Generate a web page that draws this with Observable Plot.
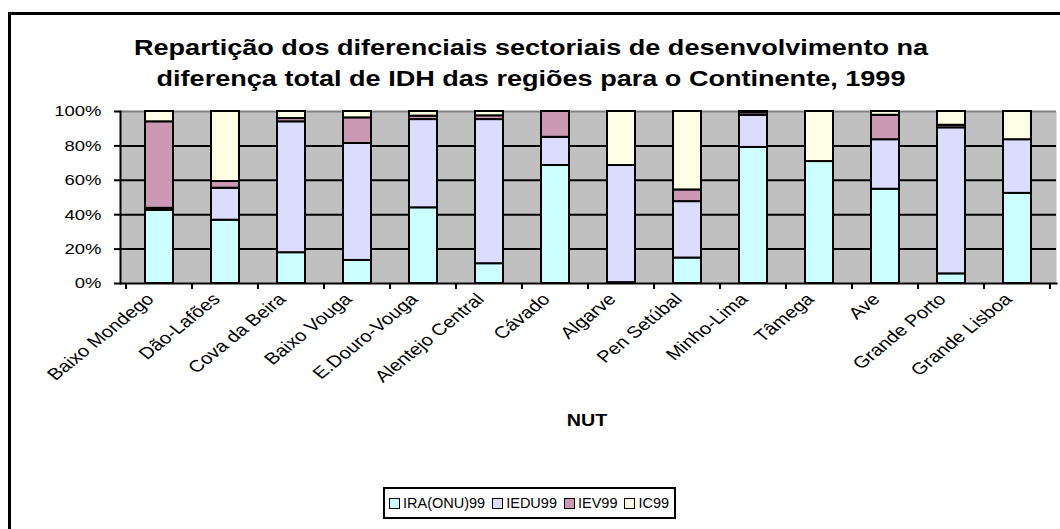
<!DOCTYPE html>
<html>
<head>
<meta charset="utf-8">
<script src="https://cdn.jsdelivr.net/npm/d3@7"></script>
<script src="https://cdn.jsdelivr.net/npm/@observablehq/plot@0.6"></script>
<style>
  html, body { margin: 0; padding: 0; background: #fff; }
  #wrap { position: relative; width: 1060px; height: 529px; overflow: hidden; font-family: "Liberation Sans", Arial, sans-serif; }
  #border { position: absolute; left: 8px; top: 12px; width: 1100px; height: 600px; border: 3px solid #000; box-sizing: border-box; }
  #title { position: absolute; left: 0; top: 32px; width: 1062px; text-align: center; font-weight: bold; font-size: 22px; line-height: 31px; color: #000; white-space: nowrap; transform: scaleX(1.23); transform-origin: 531px 0; }
  #chart { position: absolute; left: 0; top: 0; }
  #nut { position: absolute; left: 0; width: 1174px; top: 411px; text-align: center; font-weight: bold; font-size: 16px; line-height: 20px; transform: scaleX(1.23); transform-origin: 587px 0; }
  #legend { position: absolute; left: 383px; top: 487px; height: 32px; border: 2px solid #000; background: #fff; display: flex; align-items: center; padding: 0 5px 0 4px; box-sizing: border-box; font-size: 14.5px; white-space: nowrap; }
  .item { display: flex; align-items: center; margin-right: 7px; }
  .item:last-child { margin-right: 0; }
  .sw { width: 9px; height: 9px; border: 1.5px solid #000; margin-right: 3px; }
</style>
</head>
<body>
<div id="wrap">
  <div id="border"></div>
  <div id="title">Repartição dos diferenciais sectoriais de desenvolvimento na<br>diferença total de IDH das regiões para o Continente, 1999</div>
  <div id="chart"></div>
  <div id="nut">NUT</div>
  <div id="legend"></div>
</div>
<script>
const categories = ["Baixo Mondego","Dão-Lafões","Cova da Beira","Baixo Vouga","E.Douro-Vouga","Alentejo Central","Cávado","Algarve","Pen Setúbal","Minho-Lima","Tâmega","Ave","Grande Porto","Grande Lisboa"];
const series = ["IRA(ONU)99","IEDU99","IEV99","IC99"];
const colors = ["#CCFFFF","#DCDCFF","#CC99B4","#FFFFE6"];
const ira  = [42.5, 36.8, 17.9, 13.4, 44.0, 11.5, 68.6,  0.5, 14.8, 79.1, 70.9, 54.8,  5.6, 52.4];
const iedu = [ 1.2, 18.6, 76.1, 68.0, 51.3, 83.8, 16.4, 68.1, 32.8, 18.7,  0.0, 28.8, 84.9, 31.2];
const iev  = [50.3,  3.9,  1.9, 14.9,  2.0,  2.2, 15.0,  0.0,  6.8,  1.5,  0.0, 14.2,  1.5,  0.0];
const ic   = [ 6.0, 40.7,  4.1,  3.7,  2.7,  2.5,  0.0, 31.4, 45.6,  0.7, 29.1,  2.2,  8.0, 16.4];
const yTicks = [0, 20, 40, 60, 80, 100];

const valuesBySeries = [ira, iedu, iev, ic];
const data = [];
series.forEach((s, si) => {
  categories.forEach((c, ci) => {
    data.push({nut: c, series: s, value: valuesBySeries[si][ci]});
  });
});

const S = 1.23; // horizontal stretch of the lettering
const W = 1060, H = 400;
const chart = Plot.plot({
  width: W,
  height: H,
  marginTop: 111,
  marginBottom: 117,
  marginLeft: 120,
  marginRight: 4,
  style: {fontFamily: "Liberation Sans, Arial, sans-serif", fontSize: "15px", background: "transparent", overflow: "visible"},
  x: {domain: categories, paddingInner: 0.58, paddingOuter: 0.29, label: null},
  y: {domain: [0, 100], label: null},
  color: {domain: series, range: colors},
  marks: [
    Plot.frame({fill: "#C0C0C0", stroke: null}),
    Plot.ruleY(yTicks.filter(d => d > 0 && d < 100), {stroke: "#000", strokeWidth: 2}),
    Plot.ruleY([100], {stroke: "#808080", strokeWidth: 2}),
    Plot.barY(data, {x: "nut", y: "value", fill: "series", z: "series", stroke: "#000", strokeWidth: 2}),
    Plot.frame({anchor: "left", stroke: "#000", strokeWidth: 2}),
    Plot.frame({anchor: "bottom", stroke: "#000", strokeWidth: 2}),
    Plot.axisY({ticks: yTicks, tickFormat: d => d + "%", tickSize: 6, tickPadding: 13, fontSize: 15, stroke: "#000", strokeWidth: 2, label: null}),
    Plot.axisX({tickSize: 0, tickRotate: -45, tickPadding: 13, dx: -9, fontSize: 16.5, label: null, textAnchor: "end", lineAnchor: "middle"})
  ]
});
document.getElementById("chart").appendChild(chart);

// stretch tick lettering horizontally about each label's anchor
function stretch(sel) {
  d3.select(chart).selectAll(sel).each(function() {
    const t = this.getAttribute("transform") || "";
    if (/translate\(/.test(t)) {
      this.setAttribute("transform", t.replace(/(translate\([^)]*\))/, `$1 scale(${S},1)`));
    } else {
      const x = +(this.getAttribute("x") || 0), y = +(this.getAttribute("y") || 0);
      this.setAttribute("transform", `translate(${x},${y}) scale(${S},1) translate(${-x},${-y}) ${t}`);
    }
  });
}
stretch('g[aria-label="x-axis tick label"] text');
stretch('g[aria-label="y-axis tick label"] text');

// category boundary ticks (Excel-style) using the plot's x scale
const xs = chart.scale("x");
const bw = xs.bandwidth, step = xs.step;
const bounds = categories.map(c => xs.apply(c) - (step - bw) / 2);
bounds.push(xs.apply(categories[categories.length - 1]) + bw + (step - bw) / 2);
const yBase = H - 117;
d3.select(chart).append("g")
  .selectAll("line").data(bounds).join("line")
  .attr("x1", d => d).attr("x2", d => d)
  .attr("y1", yBase).attr("y2", yBase + 6)
  .attr("stroke", "#000").attr("stroke-width", 2);

// legend
const lg = d3.select("#legend");
series.forEach((s, i) => {
  const it = lg.append("div").attr("class", "item");
  it.append("div").attr("class", "sw").style("background", colors[i]);
  it.append("span").text(s);
});
</script>
</body>
</html>
